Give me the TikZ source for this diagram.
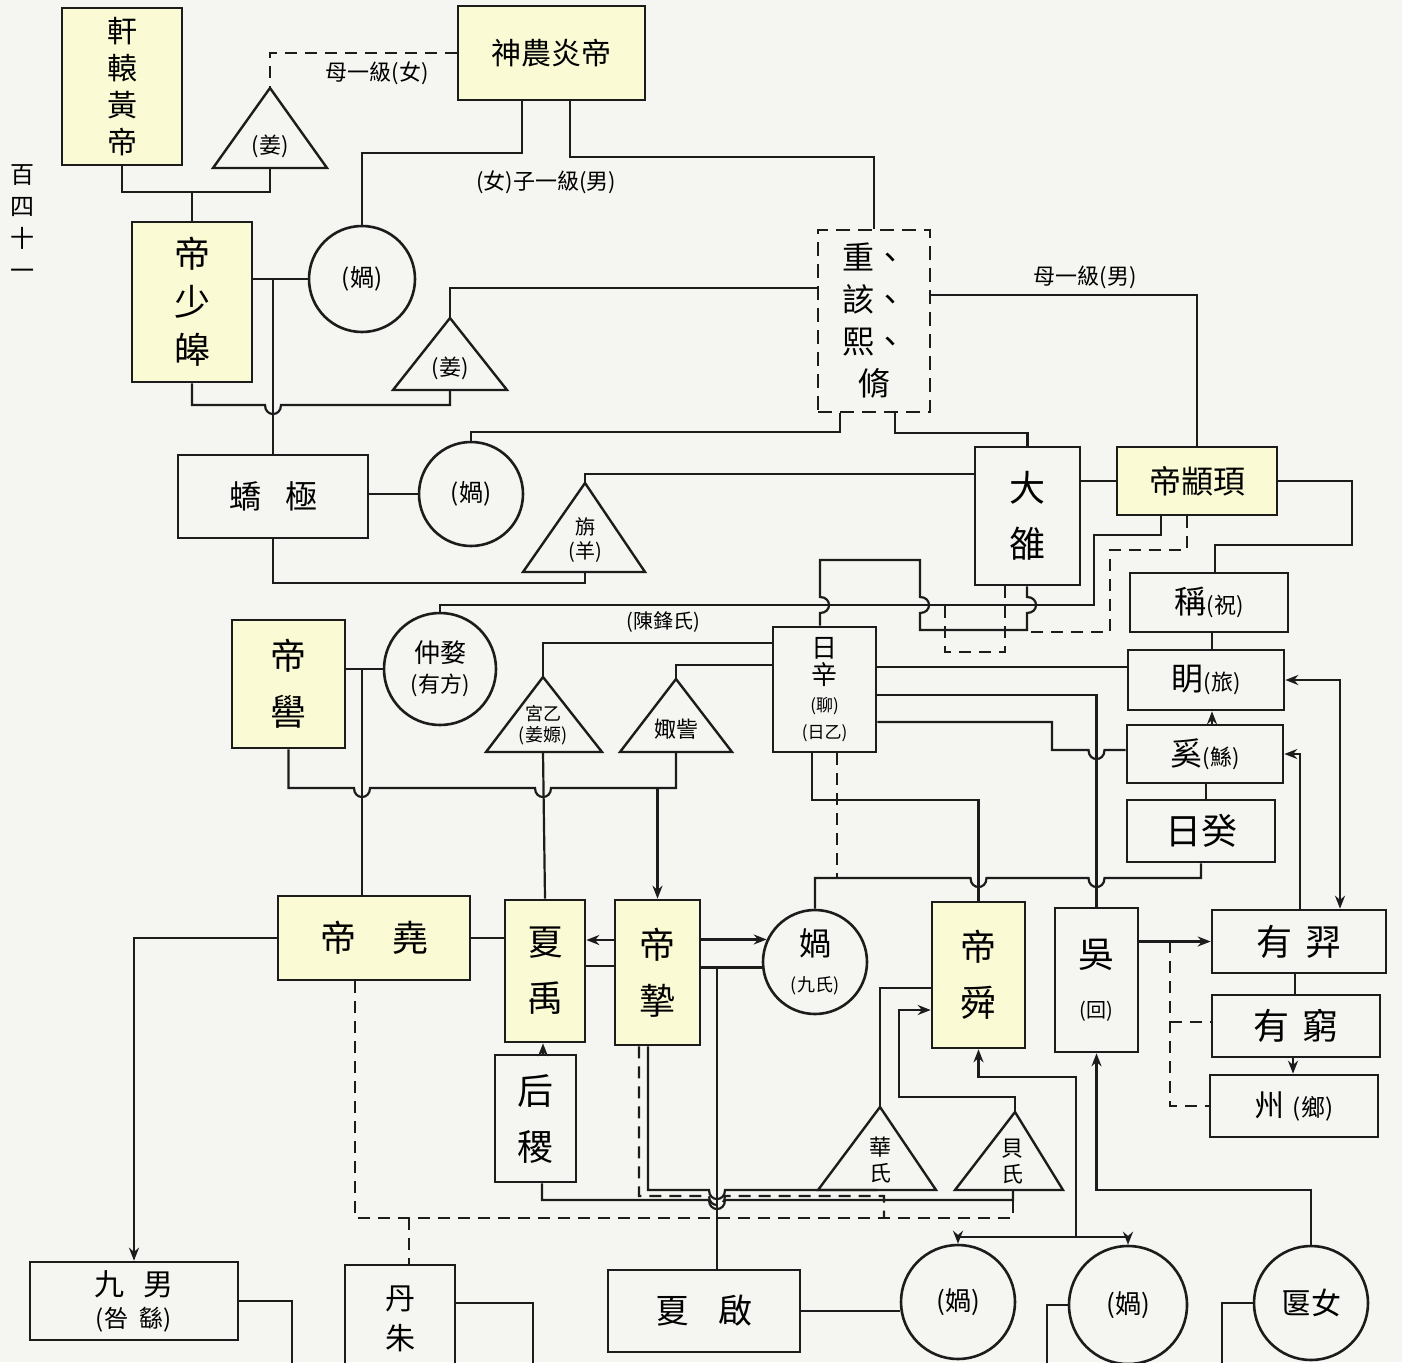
\documentclass[tikz,border=0pt]{standalone}
\usepackage{fontspec}
\newfontfamily\cjk{Noto Sans CJK TC}
\usetikzlibrary{arrows.meta, calc}
\definecolor{INK}{RGB}{28,28,28}
\definecolor{PAP}{RGB}{245,245,241}
\definecolor{HL}{RGB}{250,250,212}
\newcommand{\fs}[2]{\cjk\fontsize{#1}{#2}\selectfont}
% hops over a crossing line (R/L along x, D/U along y)
\newcommand{\hopR}[2]{-- (#1-8,#2) .. controls (#1-8,#2+12) and (#1+8,#2+12) .. (#1+8,#2)}
\newcommand{\hopL}[2]{-- (#1+8,#2) .. controls (#1+8,#2+12) and (#1-8,#2+12) .. (#1-8,#2)}
\newcommand{\hopD}[2]{-- (#1,#2-8) .. controls (#1+12,#2-8) and (#1+12,#2+8) .. (#1,#2+8)}
\newcommand{\hopU}[2]{-- (#1,#2+8) .. controls (#1+12,#2+8) and (#1+12,#2-8) .. (#1,#2-8)}
\begin{document}
\begin{tikzpicture}[x=1pt, y=-1pt,
  box/.style={draw=INK, line width=2.6pt, inner sep=0pt, align=center},
  emp/.style={box, fill=HL},
  mom/.style={draw=INK, line width=2.6pt, circle, inner sep=0pt, align=center},
  tri/.style={draw=INK, line width=2.4pt},
  lab/.style={align=center, inner sep=0pt},
  lnk/.style={draw=INK, line width=2.2pt},
  dsh/.style={lnk, dash pattern=on 12pt off 8pt},
  arr/.style={lnk, -{Stealth[length=13pt,width=10pt]}},
  both/.style={lnk, {Stealth[length=13pt,width=10pt]}-{Stealth[length=13pt,width=10pt]}}
]
\useasboundingbox (0,0) rectangle (1402,1362);
\fill[PAP] (0,0) rectangle (1402,1362);

\node[lab, font=\fs{24}{32}] (pg) at (22,222) {百\\四\\十\\一};

% top generation
\node[emp, minimum width=120pt, minimum height=157pt, font=\fs{30}{37}] (xuan) at (122,86.5) {軒\\轅\\黃\\帝};
\node[emp, minimum width=187pt, minimum height=94pt, font=\fs{30}{30}] (shennong) at (551.5,53) {神農炎帝};
\draw[tri] (270,88) coordinate (t1top) -- (327,168) -- (213,168) -- cycle;
\coordinate (t1bot) at (270,168);
\node[lab, font=\fs{22}{22}] (t1) at (270,146) {(姜)};
\node[lab, font=\fs{22}{22}] (lb1) at (377,73) {母一級(女)};
\node[lab, font=\fs{22}{22}] (lb2) at (546,182) {(女)子一級(男)};

\node[emp, minimum width=120pt, minimum height=160pt, font=\fs{36}{48}] (shaohao) at (192,302) {帝\\少\\皞};
\node[mom, minimum size=106pt, font=\fs{24}{24}] (c1) at (362,279) {(媧)};
\draw[tri] (450,318) coordinate (t2top) -- (507,390) -- (393,390) -- cycle;
\coordinate (t2bot) at (450,390);
\node[lab, font=\fs{22}{22}] (t2) at (450,368) {(姜)};
\node[box, dash pattern=on 14pt off 8pt, minimum width=112pt, minimum height=182pt, font=\fs{32}{42}] (chong) at (874,321) {重、\\該、\\熙、\\脩};
\node[lab, font=\fs{22}{22}] (lb3) at (1085,277) {母一級(男)};

\node[box, minimum width=190pt, minimum height=83pt, font=\fs{32}{32}] (jiaoji) at (273,496.5) {蟜\hspace{24pt}極};
\node[mom, minimum size=104pt, font=\fs{24}{24}] (c2) at (471,494) {(媧)};
\draw[tri] (585,483) coordinate (t3top) -- (645,572) -- (523,572) -- cycle;
\coordinate (t3bot) at (585,572);
\node[lab, font=\fs{20}{24}] (t3) at (585,540) {旃\\(羊)};
\node[box, minimum width=105pt, minimum height=138pt, font=\fs{36}{56}] (daluo) at (1027.5,516) {大\\雒};
\node[emp, minimum width=160pt, minimum height=68pt, font=\fs{32}{32}] (zhuanxu) at (1197,481) {帝顓頊};

% right column
\node[box, minimum width=158pt, minimum height=59pt, font=\fs{32}{32}] (cheng) at (1209,602.5) {稱{\fs{22}{22}(祝)}};
\node[box, minimum width=156pt, minimum height=60pt, font=\fs{32}{32}] (ming) at (1206,680) {眀{\fs{22}{22}(旅)}};
\node[box, minimum width=156pt, minimum height=58pt, font=\fs{32}{32}] (xi) at (1205,754) {奚{\fs{22}{22}(鯀)}};
\node[box, minimum width=148pt, minimum height=62pt, font=\fs{36}{36}] (rigui) at (1201,831) {日癸};

% middle generation
\node[emp, minimum width=113pt, minimum height=128pt, font=\fs{36}{56}] (diku) at (288.5,684) {帝\\嚳};
\node[mom, minimum size=112pt, font=\fs{26}{30}] (c3) at (440,669) {仲婺\\{\fs{22}{26}(有方)}};
\node[lab, font=\fs{20}{20}] (lb4) at (663,622) {(陳鋒氏)};
\draw[tri] (543,677) coordinate (t4top) -- (602,752) -- (486,752) -- cycle;
\coordinate (t4bot) at (543,752);
\node[lab, font=\fs{18}{21}] (t4) at (543,725) {宮乙\\(姜嫄)};
\draw[tri] (676,679) coordinate (t5top) -- (732,752) -- (620,752) -- cycle;
\coordinate (t5bot) at (676,752);
\node[lab, font=\fs{22}{22}] (t5) at (676,729) {娵訾};
\node[box, minimum width=103pt, minimum height=125pt, font=\fs{26}{27}] (rixin) at (824.5,689.5) {日\\辛\\{\fs{17}{21}(聊)}\\{\fs{17}{21}(日乙)}};

% lower generation
\node[emp, minimum width=192pt, minimum height=84pt, font=\fs{36}{36}] (yao) at (374,938) {帝\hspace{36pt}堯};
\node[emp, minimum width=80pt, minimum height=142pt, font=\fs{36}{56}] (yu) at (545,971) {夏\\禹};
\node[emp, minimum width=85pt, minimum height=145pt, font=\fs{36}{56}] (zhi) at (657.5,972.5) {帝\\摯};
\node[mom, minimum size=104pt, font=\fs{32}{36}] (c4) at (815,962) {媧\\{\fs{18}{20}(九氏)}};
\node[emp, minimum width=93pt, minimum height=146pt, font=\fs{36}{56}] (shun) at (978.5,975) {帝\\舜};
\node[box, minimum width=83pt, minimum height=144pt, font=\fs{36}{50}] (wuhui) at (1096.5,980) {吳\\{\fs{20}{20}(回)}};
\node[box, minimum width=174pt, minimum height=63pt, font=\fs{36}{36}] (yi) at (1299,941.5) {有\hspace{14pt}羿};
\node[box, minimum width=168pt, minimum height=62pt, font=\fs{36}{36}] (qiong) at (1296,1026) {有\hspace{14pt}窮};
\node[box, minimum width=168pt, minimum height=62pt, font=\fs{30}{30}] (zhou) at (1294,1106) {州\hspace{8pt}{\fs{24}{24}(鄉)}};
\node[box, minimum width=81pt, minimum height=127pt, font=\fs{36}{56}] (houji) at (535.5,1118.5) {后\\稷};
\draw[tri] (880,1107) coordinate (t6top) -- (936,1190) -- (818,1190) -- cycle;
\coordinate (t6bot) at (877,1190);
\node[lab, font=\fs{22}{26}] (t6) at (880,1160) {華\\氏};
\draw[tri] (1015,1112) coordinate (t7top) -- (1063,1190) -- (955,1190) -- cycle;
\coordinate (t7bot) at (1013,1190);
\node[lab, font=\fs{22}{26}] (t7) at (1012,1162) {貝\\氏};

% bottom row
\node[box, minimum width=208pt, minimum height=78pt, font=\fs{30}{32}] (jiunan) at (134,1301) {九\hspace{20pt}男\\{\fs{24}{26}(咎\hspace{12pt}繇)}};
\node[box, minimum width=110pt, minimum height=108pt, font=\fs{30}{40}] (danzhu) at (400,1319) {丹\\朱};
\node[box, minimum width=192pt, minimum height=82pt, font=\fs{34}{34}] (qi) at (704,1311) {夏\hspace{30pt}啟};
\node[mom, minimum size=114pt, font=\fs{26}{26}] (c5) at (958,1302) {(媧)};
\node[mom, minimum size=118pt, font=\fs{26}{26}] (c6) at (1128,1305) {(媧)};
\node[mom, minimum size=114pt, font=\fs{30}{30}] (c7) at (1311,1303) {匽女};

% upper links
\draw[dsh] (shennong.west) -| (t1top);
\draw[lnk] (xuan.south) -- (122,192) -| (t1bot);
\draw[lnk] (shaohao.north) -- (shaohao.north |- 0,192);
\draw[lnk] (shennong.south -| 522,0) -- (522,153) -| (c1.north);
\draw[lnk] (shennong.south -| 570,0) -- (570,157) -| (chong.north);
\draw[lnk] (shaohao.east |- c1.west) -- (c1.west);
\draw[lnk] (jiaoji.north |- c1.west) -- (jiaoji.north);
\draw[lnk] (shaohao.south) -- (192,405) \hopR{273}{405} -| (t2bot);
\draw[lnk] (t2top) |- (chong.west |- 0,288);
\draw[lnk] (chong.east |- 0,295) -| (zhuanxu.north);
\draw[lnk] (chong.south -| 840,0) -- (840,432) -| (c2.north);
\draw[lnk] (chong.south -| 895,0) -- (895,433) -| (daluo.north);
\draw[lnk] (t3top) |- (daluo.west |- 0,474);
\draw[lnk] (daluo.east |- zhuanxu.west) -- (zhuanxu.west);
\draw[lnk] (jiaoji.east |- c2.west) -- (c2.west);
\draw[lnk] (jiaoji.south) -- (273,583) -| (t3bot);

% middle links
\draw[lnk] (c3.north) |- (1094,605) |- (1161,535) -- (zhuanxu.south -| 1161,0);
\draw[dsh] (zhuanxu.south -| 1187,0) |- (1110,550) |- (1030,632);
\draw[lnk] (daluo.south -| 1027,0) \hopD{1027}{605} -- (1027,630) -- (920,630) \hopU{920}{605} -- (920,560) -- (820,560) \hopD{820}{605} -- (rixin.north -| 820,0);
\draw[dsh] (daluo.south -| 1005,0) |- (945,652) -- (945,605);
\draw[lnk] (rixin.east |- 0,667) -- (ming.west |- 0,667);
\draw[lnk] (rixin.east |- 0,695) -| (wuhui.north);
\draw[lnk] (rixin.east |- 0,722) -- (1052,722) -- (1052,750) \hopR{1096.5}{750} -- (xi.west |- 0,750);
\draw[lnk] (rixin.south -| 812,0) -- (812,800) -| (shun.north);
\draw[dsh] (rixin.south -| 837,0) -- (837,877);
\draw[lnk] (rigui.south) -- (1201,878) \hopL{1096.5}{878} \hopL{978.5}{878} -| (c4.north);
\draw[lnk] (cheng.south -| 1212,0) -- (ming.north -| 1212,0);
\draw[arr] (xi.north -| 1212,0) -- (ming.south -| 1212,0);
\draw[lnk] (xi.south -| 1206,0) -- (rigui.north -| 1206,0);
\draw[lnk] (zhuanxu.east) -| (1352,545) -| (cheng.north -| 1215,0);
\draw[both] (ming.east) -| (yi.north -| 1340,0);
\draw[arr] (yi.north -| 1300,0) |- (xi.east);

\draw[lnk] (diku.east |- c3.west) -- (c3.west);
\draw[lnk] (c3.west -| 362,0) -- (yao.north -| 362,0);
\draw[lnk] (diku.south) -- (288.5,788) \hopR{362}{788} \hopR{543}{788} -| (t5bot);
\draw[arr] (zhi.north |- 0,788) -- (zhi.north);
\draw[lnk] (rixin.west |- 0,643) -| (t4top);
\draw[lnk] (rixin.west |- 0,665) -| (t5top);
\draw[lnk] (t4bot) -- (yu.north);

% lower links
\draw[lnk] (yao.east) -- (yu.west |- yao.east);
\draw[arr] (yao.west) -| (jiunan.north);
\draw[dsh] (yao.south -| 355,0) |- (1013,1218) -- (1013,1200);
\draw[dsh] (409,1218) -- (danzhu.north -| 409,0);
\draw[arr] (zhi.west |- 0,940) -- (yu.east |- 0,940);
\draw[lnk] (yu.east |- 0,966) -- (zhi.west |- 0,966);
\draw[arr] (houji.north -| 543,0) -- (yu.south -| 543,0);
\draw[arr] (zhi.east |- c4.155) -- (c4.155);
\draw[lnk] (zhi.east |- c4.186) -- (c4.186);
\draw[lnk] (717,967) -- (qi.north -| 717,0);
\draw[lnk] (houji.south -| 542,0) -- (542,1200) \hopR{717}{1200} -| (t7bot);
\draw[lnk] (zhi.south -| 648,0) -- (648,1190) \hopR{717}{1190} -- (t6bot);
\draw[dsh] (zhi.south -| 639,0) -- (639,1196) \hopR{717}{1196} -| (884,1218);
\draw[lnk] (t6top) |- (shun.west |- 0,988);
\draw[arr] (t7top) |- (899,1097) |- (shun.west |- 0,1010);
\draw[both] (c5.north) |- (c6.north |- 0,1237) -- (c6.north);
\draw[arr] (1076,1237) |- (shun.south |- 0,1077) -- (shun.south);
\draw[arr] (c7.north) |- (wuhui.south |- 0,1190) -- (wuhui.south);
\draw[arr] (wuhui.east |- yi.west) -- (yi.west);
\draw[dsh] (1170,941) |- (zhou.west);
\draw[dsh] (1170,1022) -- (qiong.west |- 0,1022);
\draw[lnk] (yi.south -| 1295,0) -- (qiong.north -| 1295,0);
\draw[arr] (qiong.south -| 1293,0) -- (zhou.north -| 1293,0);

% bottom edge
\draw[lnk] (jiunan.east) -| (292,1400);
\draw[lnk] (danzhu.east |- 0,1303) -| (533,1400);
\draw[lnk] (qi.east) -- (c5.west |- qi.east);
\draw[lnk] (c6.west) -| (1047,1400);
\draw[lnk] (c7.west) -| (1222,1400);
\end{tikzpicture}
\end{document}
